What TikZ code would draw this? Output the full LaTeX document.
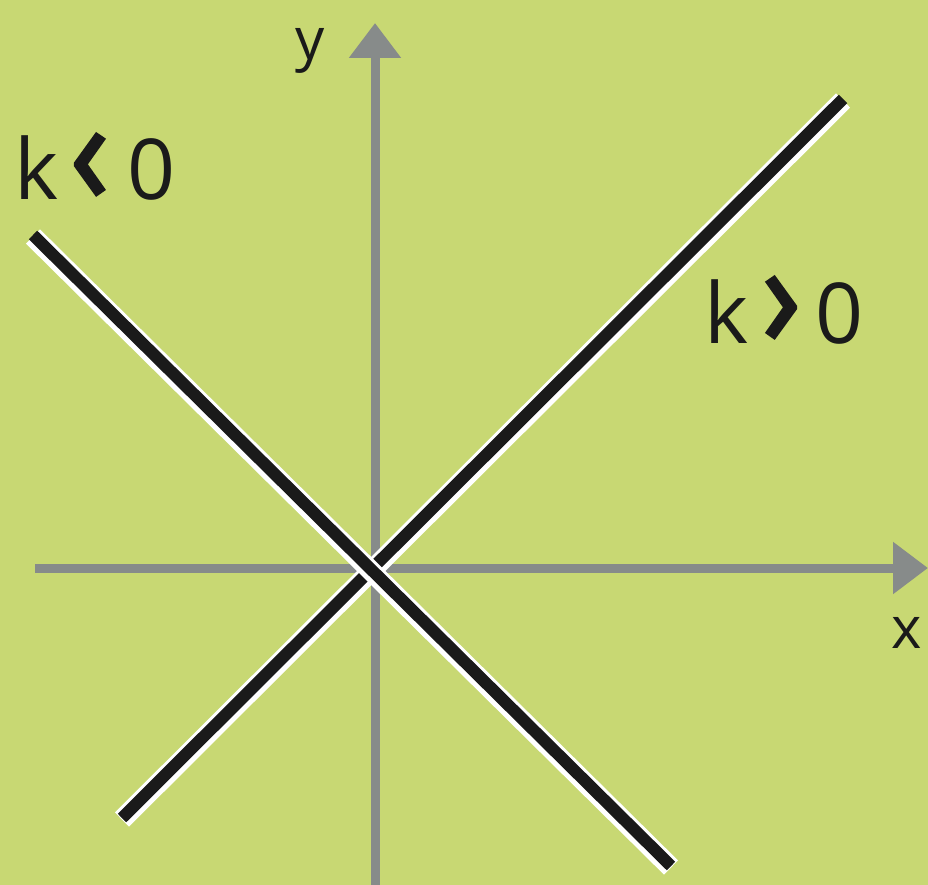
\documentclass[tikz,border=0pt]{standalone}
\usepackage{fontspec}
\setmainfont{Open Sans}
\newfontfamily\chevfont[FakeBold=2.4]{Open Sans}
\usetikzlibrary{arrows.meta}
\definecolor{bg}{RGB}{200,216,115}
\definecolor{axisgrey}{RGB}{135,139,138}
\definecolor{lineblack}{RGB}{26,26,26}
\newcommand\chev[1]{\raisebox{-3pt}{\scalebox{1.5}[1.75]{\chevfont #1}}}
\begin{document}
\begin{tikzpicture}[x=1pt,y=-1pt,
  axis/.style={draw=axisgrey, line width=9pt, -{Triangle[length=35pt,width=50pt]}},
  halo/.style={draw=white, line width=20pt},
  graph/.style={draw=lineblack, line width=12pt},
  biglab/.style={inner sep=0pt, text=lineblack, font=\fontsize{84}{90}\selectfont},
  axlab/.style={inner sep=0pt, text=lineblack, font=\fontsize{58}{62}\selectfont}]
\useasboundingbox (0,0) rectangle (928,885);
\fill[bg] (0,0) rectangle (928,885);
% axes
\coordinate (xs) at (35,568);
\coordinate (xe) at (928,568);
\coordinate (ys) at (375,885);
\coordinate (ye) at (375,23);
\draw[axis] (xs) -- (xe);
\draw[axis] (ys) -- (ye);
\node[axlab, anchor=base] (xlab) at (907,648) {x};
\node[axlab, anchor=base] (ylab) at (310,60) {y};
% graphs
\coordinate (pA) at (122,818);
\coordinate (pB) at (843,99);
\coordinate (nA) at (33,235);
\coordinate (nB) at (671,866);
\draw[halo] ([yshift=-1.5pt]pA) -- ([yshift=-1.5pt]pB);
\draw[graph] (pA) -- (pB);
\draw[halo] ([yshift=-1.5pt]nA) -- ([yshift=-1.5pt]nB);
\draw[graph] (nA) -- (nB);
% labels
\node[biglab, anchor=base west] (kneg) at (14,200) {k\hspace{12pt}\chev{‹}\hspace{19pt}0};
\node[biglab, anchor=base west] (kpos) at (704,343) {k\hspace{14pt}\chev{›}\hspace{15pt}0};
\end{tikzpicture}
\end{document}
